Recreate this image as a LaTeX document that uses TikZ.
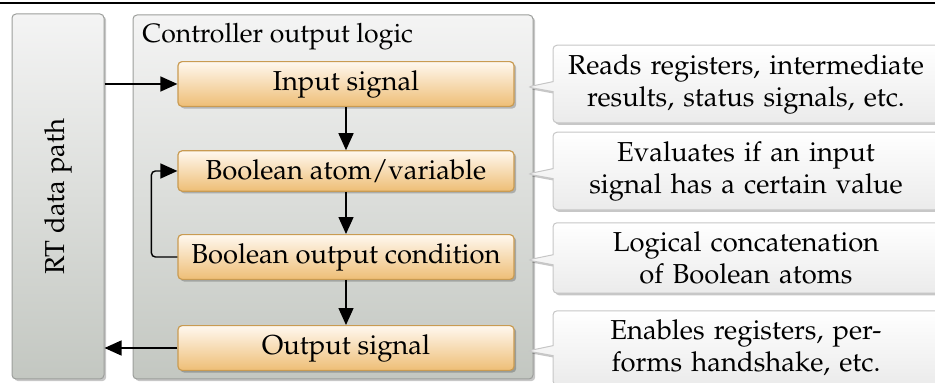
\documentclass[tikz,border=0pt]{standalone}
\usepackage[T1]{fontenc}
\usepackage{mathpazo}
\usetikzlibrary{arrows.meta,shapes.callouts,shadows,calc}

\definecolor{paneltop}{HTML}{F4F4F4}
\definecolor{panelbot}{HTML}{C3C7C1}
\definecolor{paneledge}{HTML}{9C9E9B}
\definecolor{boxtop}{HTML}{FFF8EF}
\definecolor{boxbot}{HTML}{EEBE76}
\definecolor{boxedge}{HTML}{C99B52}
\definecolor{notebot}{HTML}{EBEBEB}
\definecolor{noteedge}{HTML}{C6C6C6}

\tikzset{
  softshadow/.style={drop shadow={shadow xshift=1.1pt, shadow yshift=-1.1pt, fill=black, opacity=0.22}},
  panel/.style={draw=paneledge, line width=0.5pt, rounded corners=2pt,
    top color=paneltop, bottom color=panelbot, softshadow, inner sep=0pt},
  stepbox/.style={draw=boxedge, line width=0.6pt, rounded corners=2pt,
    top color=boxtop, bottom color=boxbot, softshadow,
    minimum width=168pt, inner ysep=4.3pt},
  note/.style={rectangle callout, draw=noteedge, line width=0.5pt, rounded corners=2pt,
    top color=white, bottom color=notebot, softshadow,
    text width=182pt, align=center, inner xsep=5.5pt, inner ysep=4.5pt,
    callout pointer width=5pt},
  arr/.style={-{Triangle[length=8.5pt,width=7.5pt]}, line width=0.7pt},
}

\begin{document}
\begin{tikzpicture}[x=0.5pt, y=-0.5pt, font=\fontsize{13.7}{16}\selectfont]
\useasboundingbox (0,0) rectangle (935,383);

% rule across the top
\coordinate (ruleL) at (0,3.5);
\coordinate (ruleR) at (935,3.5);
\draw[line width=1pt] (ruleL) -- (ruleR);

% data path and controller panels
\node[panel, minimum width=46pt, minimum height=182.5pt] (rt) at (58,196.5) {};
\node[rotate=90] (rtlabel) at (rt.center) {RT data path};

\node[panel, minimum width=200pt, minimum height=182pt] (ctrl) at (333,197) {};
\node[anchor=base west, inner sep=0pt, font=\fontsize{13.3}{16}\selectfont] (ctrltitle) at (142,43) {Controller output logic};

% processing steps
\node[stepbox] (in)   at (346,84)  {Input signal};
\node[stepbox] (atom) at (346,171) {Boolean atom/variable};
\node[stepbox] (cond) at (346,257) {Boolean output condition};
\node[stepbox] (out)  at (346,348) {Output signal};

\draw[arr] (rt.east |- in.west) -- (in.west);
\draw[arr] (in.south) -- (atom.north);
\draw[arr] (atom.south) -- (cond.north);
\draw[arr] (cond.south) -- (out.north);
\draw[arr, rounded corners=2pt] (cond.west) -- ++(-26,0) |- (atom.west);
\draw[arr] (out.west) -- (rt.east |- out.west);

% explanations
\node[note, callout absolute pointer={($(ctrl.east |- in.center)+(-6,3)$)}] (n1) at (746,84)
  {Reads registers, intermediate\\results, status signals, etc.};
\node[note, callout absolute pointer={($(ctrl.east |- atom.center)+(-6,3)$)}] (n2) at (746,171)
  {Evaluates if an input\\signal has a certain value};
\node[note, callout absolute pointer={($(ctrl.east |- cond.center)+(-6,3)$)}] (n3) at (746,258)
  {Logical concatenation\\of Boolean atoms};
\node[note, callout absolute pointer={($(ctrl.east |- out.center)+(-6,3)$)}] (n4) at (746,348)
  {Enables registers, per-\\forms handshake, etc.};
\end{tikzpicture}
\end{document}
